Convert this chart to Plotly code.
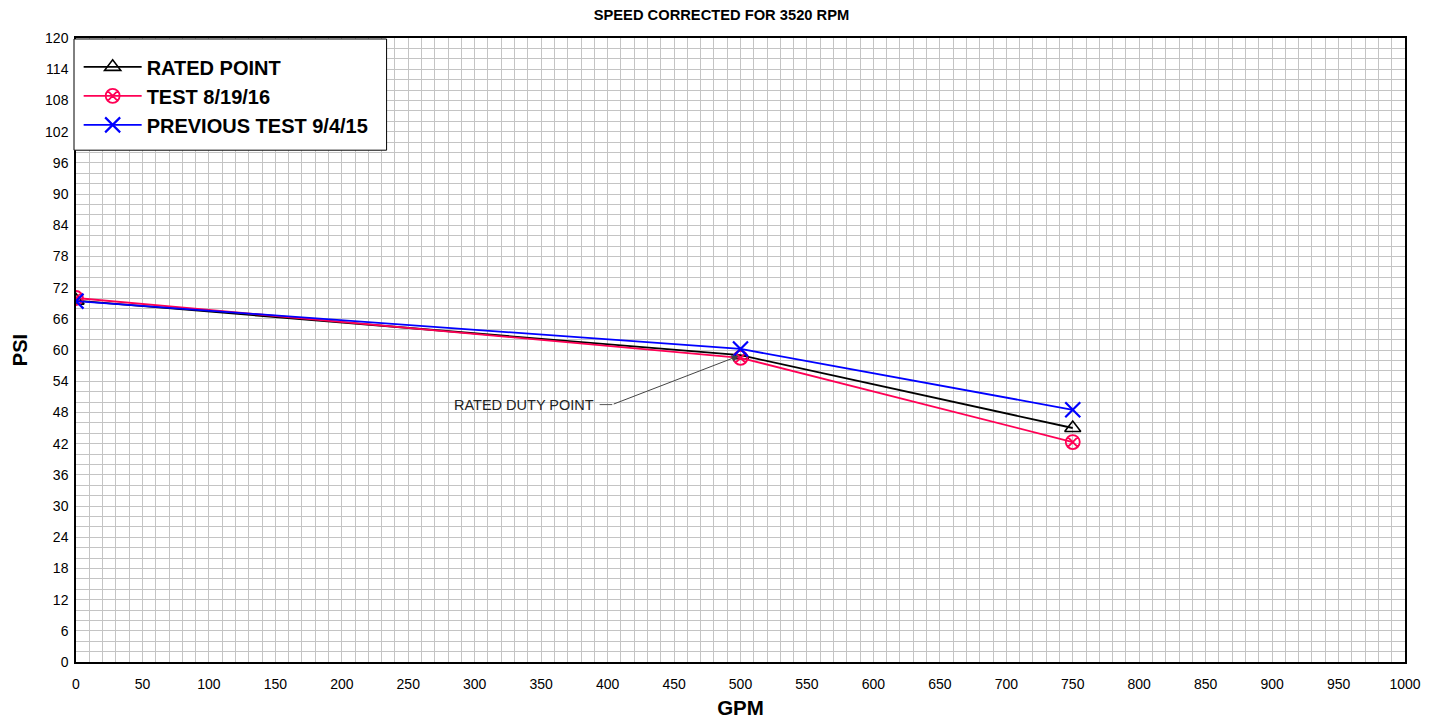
import plotly.graph_objects as go

gpm = [0, 500, 750]
rated_psi = [69.5, 59.0, 45.0]
test_psi = [70.0, 58.5, 42.3]
prev_psi = [69.4, 60.2, 48.5]

series_names = ["RATED POINT", "TEST 8/19/16", "PREVIOUS TEST 9/4/15"]
x_ticks = list(range(0, 1001, 50))
y_ticks = list(range(0, 121, 6))

fig = go.Figure()
fig.add_trace(go.Scatter(x=gpm, y=rated_psi, name=series_names[0], mode="lines+markers",
                         line=dict(color="black", width=1.8),
                         marker=dict(symbol="triangle-up-open", size=14, color="black", line=dict(width=1.6))))
fig.add_trace(go.Scatter(x=gpm, y=test_psi, name=series_names[1], mode="lines+markers",
                         line=dict(color="#ff0055", width=1.8),
                         marker=dict(symbol="circle-x-open", size=14, color="#ff0055", line=dict(width=1.8))))
fig.add_trace(go.Scatter(x=gpm, y=prev_psi, name=series_names[2], mode="lines+markers",
                         line=dict(color="#0000ff", width=1.8),
                         marker=dict(symbol="x-thin-open", size=15, color="#0000ff", line=dict(width=2.2))))

# annotation: rated duty point
fig.add_annotation(x=390, y=49.5, xref="x", yref="y", text="RATED DUTY POINT", showarrow=False,
                   xanchor="right", yanchor="middle", xshift=2,
                   font=dict(family="Liberation Sans, Arial", size=14.5, color="#222"))
fig.add_shape(type="line", x0=394, y0=49.5, x1=403.5, y1=49.5, xref="x", yref="y",
              line=dict(color="#555", width=1))
fig.add_annotation(x=gpm[1], y=rated_psi[1], ax=403.5, ay=49.5, axref="x", ayref="y", xref="x", yref="y",
                   text="", showarrow=True, arrowhead=2, arrowsize=1.4, arrowwidth=1,
                   arrowcolor="#444", standoff=2)

# legend box
fig.add_shape(type="rect", xref="paper", yref="paper", x0=-0.0015, x1=0.2337, y0=0.8202, y1=0.9984,
              fillcolor="white", line=dict(color="black", width=1), layer="above")

grid_c = "#c4c4c4"
fig.update_layout(
    width=1437, height=721,
    margin=dict(l=68, r=40, t=30, b=67),
    paper_bgcolor="white", plot_bgcolor="white",
    font=dict(family="Liberation Sans, Arial", color="black"),
    title=dict(text="<b>SPEED CORRECTED FOR 3520 RPM</b>", x=0.4965, xanchor="center", y=0.99, yanchor="middle",
               font=dict(size=14.7, color="black")),
    showlegend=True,
    legend=dict(x=0.002, y=0.985, xanchor="left", yanchor="top", bgcolor="rgba(0,0,0,0)",
                borderwidth=0, itemwidth=58,
                font=dict(size=20, family="Liberation Sans, Arial", color="black", weight="bold"),
                tracegroupgap=0),
    xaxis=dict(range=[0, 1000], tickvals=x_ticks, ticktext=[str(v) for v in x_ticks],
               showgrid=True, gridcolor=grid_c, gridwidth=1,
               minor=dict(dtick=10, tick0=0, showgrid=True, gridcolor=grid_c, gridwidth=1),
               showline=True, linecolor="black", linewidth=1.5, mirror=True,
               ticks="", tickfont=dict(size=14), zeroline=False, ticklabelstandoff=8,
               title=dict(text="<b>GPM</b>", font=dict(size=20.5), standoff=10)),
    yaxis=dict(range=[0, 120], tickvals=y_ticks, ticktext=[str(v) for v in y_ticks],
               showgrid=True, gridcolor=grid_c, gridwidth=1,
               minor=dict(dtick=2, tick0=0, showgrid=True, gridcolor=grid_c, gridwidth=1),
               showline=True, linecolor="black", linewidth=1.5, mirror=True,
               ticks="", tickfont=dict(size=14), zeroline=False, ticklabelstandoff=3,
               title=dict(text="<b>PSI</b>", font=dict(size=20), standoff=12)),
)

fig.write_html("out.html")
